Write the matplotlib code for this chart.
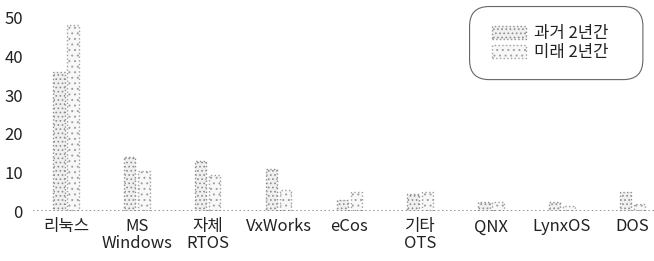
import numpy as np
import matplotlib
matplotlib.use('Agg')
import matplotlib.pyplot as plt
from matplotlib.patches import FancyBboxPatch

plt.rcParams['font.family'] = ['Noto Sans CJK KR', 'DejaVu Sans']
plt.rcParams['hatch.linewidth'] = 0.7

# 데이터
categories = ['리눅스', 'MS\nWindows', '자체\nRTOS', 'VxWorks', 'eCos', '기타\nOTS', 'QNX', 'LynxOS', 'DOS']
past = [36, 14, 13, 11, 3, 4.5, 2.5, 2.5, 5]
future = [48, 10.5, 9.5, 5.5, 5, 5, 2.5, 1.5, 2]
series_names = ['과거 2년간', '미래 2년간']

fig = plt.figure(figsize=(6.54, 2.61), dpi=100)
ax = fig.add_axes([0.05, 0.19, 0.95, 0.81])

x = np.arange(len(categories))
w = 0.16
b1 = ax.bar(x - 0.1, past, w, color='#f0f0f0', edgecolor='#8e8e8e', hatch='....',
            linewidth=1.0, linestyle=':', label=series_names[0])
b2 = ax.bar(x + 0.1, future, w, color='#f8f8f8', edgecolor='#a0a0a0', hatch='...',
            linewidth=1.0, linestyle=':', label=series_names[1])

ax.axhline(0, color='#777777', linewidth=1.1, linestyle=':')

ax.set_xlim(-0.47, 8.3)
ax.set_ylim(0, 54.5)
ax.set_yticks([0, 10, 20, 30, 40, 50])
ax.set_xticks(x)
ax.set_xticklabels(categories, fontsize=12, color='#222222', linespacing=1.0, va='top')
ax.tick_params(axis='both', length=0, labelsize=12, colors='#222222')
ax.tick_params(axis='x', pad=5)
ax.tick_params(axis='y', pad=7)
for s in ax.spines.values():
    s.set_visible(False)

# 범례
frame = FancyBboxPatch((0.718, 0.695), 0.265, 0.28, transform=fig.transFigure,
                       boxstyle='round,pad=0,rounding_size=0.03', facecolor='white',
                       edgecolor='#666666', linewidth=0.8, mutation_aspect=2.5)
fig.patches.append(frame)
leg = fig.legend(handles=[b1, b2], loc='upper left', bbox_to_anchor=(0.73, 0.96),
                 frameon=False, fontsize=12, handlelength=2.0, handleheight=0.8,
                 handletextpad=0.5, labelspacing=0.1, labelcolor='#222222')

fig.savefig('out.png', dpi=100)
